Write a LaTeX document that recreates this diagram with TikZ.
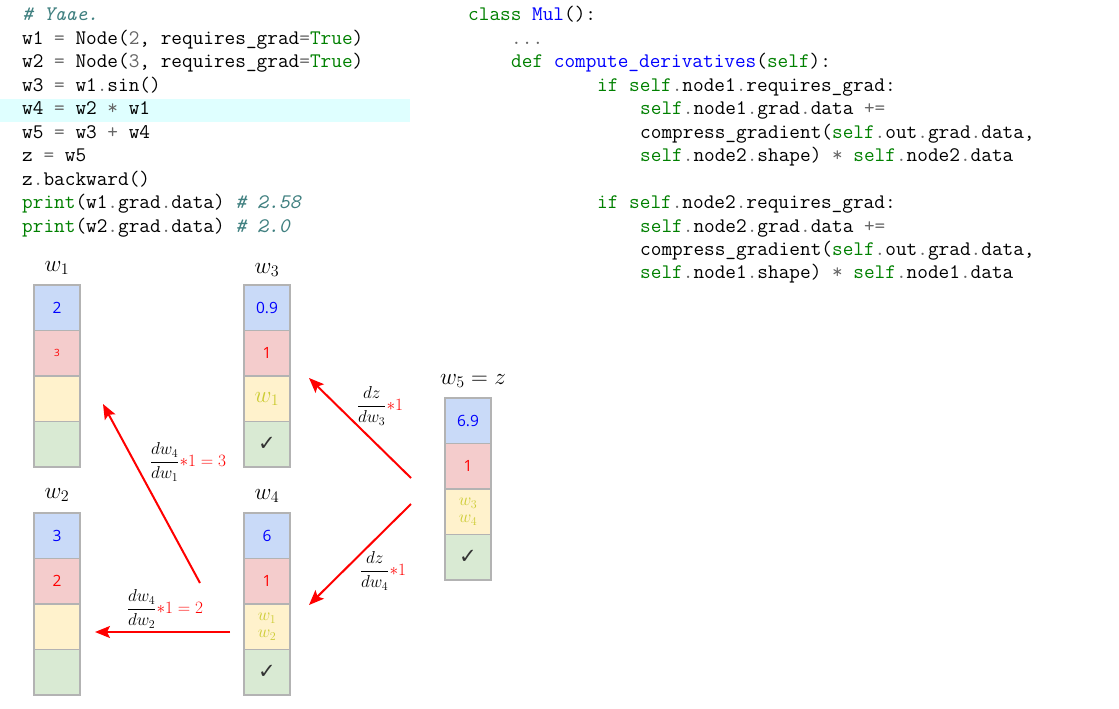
\RequirePackage{fix-cm}
\documentclass[tikz,border=0pt]{standalone}
\usepackage{amsmath}
\usepackage{graphicx}
\usepackage{fontspec}
\usetikzlibrary{arrows.meta}
\newfontfamily\cellfont{Open Sans}
\newfontfamily\symfont{DejaVu Sans}
\definecolor{pgreen}{HTML}{008000}
\definecolor{pgray}{HTML}{666666}
\definecolor{pblue}{HTML}{0000FF}
\definecolor{pcomm}{HTML}{408080}
\definecolor{hl}{HTML}{DFFFFF}
\definecolor{cblue}{HTML}{C9DAF8}
\definecolor{cred}{HTML}{F4CCCC}
\definecolor{cyel}{HTML}{FFF2CC}
\definecolor{cgreen}{HTML}{D9EAD3}
\definecolor{cborder}{HTML}{B3B3B3}
\definecolor{ytext}{HTML}{CCCC33}
\definecolor{chk}{HTML}{333333}
\newcommand\kg[1]{\textcolor{pgreen}{#1}}
\newcommand\op[1]{\textcolor{pgray}{#1}}
\newcommand\nb[1]{\textcolor{pblue}{#1}}
\newcommand\cm[1]{\textcolor{pcomm}{\itshape #1}}
\newcommand\scaledmathlbl[1]{\scalebox{1.12}{$#1$}}
\tikzset{
  codeline/.style={anchor=base west, inner sep=0pt, font=\fontsize{20.7}{23.5}\selectfont\ttfamily},
  cell/.style={draw=cborder, line width=1.3pt, minimum width=46pt, minimum height=45.5pt, inner sep=0pt, anchor=center},
  cb/.style={cell, fill=cblue, text=blue, font=\cellfont\fontsize{15.5}{18}\selectfont},
  cr/.style={cell, fill=cred, text=red, font=\cellfont\fontsize{15.5}{18}\selectfont},
  cy/.style={cell, fill=cyel, text=ytext, font=\fontsize{20.74}{25}\selectfont},
  cys/.style={cell, fill=cyel, text=ytext, font=\fontsize{17.28}{19}\selectfont, align=center},
  cg/.style={cell, fill=cgreen, text=chk, font=\symfont\bfseries\fontsize{21}{24}\selectfont},
  lbl/.style={inner sep=0pt, font=\fontsize{20.74}{25}\selectfont},
  garrow/.style={draw=red, line width=2pt, -{Stealth[length=15pt,width=12pt,inset=3pt]}},
  glbl/.style={inner sep=0pt, font=\fontsize{17.28}{21}\selectfont},
}
\begin{document}
\begin{tikzpicture}[x=1pt,y=-1pt]
\useasboundingbox (0,0) rectangle (1119,709);
% highlight
\fill[hl] (0,99) rectangle (410,122);
% left code
\node[codeline] (l0) at (22,21.0) {\cm{\# Yaae.}};
\node[codeline] (l1) at (22,44.45) {w1 \op{=} Node(\op{2}, requires\_grad\op{=}\kg{True})};
\node[codeline] (l2) at (22,67.9) {w2 \op{=} Node(\op{3}, requires\_grad\op{=}\kg{True})};
\node[codeline] (l3) at (22,91.35) {w3 \op{=} w1\op{.}sin()};
\node[codeline] (l4) at (22,114.8) {w4 \op{=} w2 \op{*} w1};
\node[codeline] (l5) at (22,138.25) {w5 \op{=} w3 \op{+} w4};
\node[codeline] (l6) at (22,161.7) {z \op{=} w5};
\node[codeline] (l7) at (22,185.15) {z\op{.}backward()};
\node[codeline] (l8) at (22,208.6) {\kg{print}(w1\op{.}grad\op{.}data) \cm{\# 2.58}};
\node[codeline] (l9) at (22,232.05) {\kg{print}(w2\op{.}grad\op{.}data) \cm{\# 2.0}};
% right code
\node[codeline] (r0) at (468,21.0) {\kg{class} \nb{Mul}():};
\node[codeline] (r1) at (511,44.45) {\op{...}};
\node[codeline] (r2) at (511,67.9) {\kg{def} \nb{compute\_derivatives}(\kg{self}):};
\node[codeline] (r3) at (597,91.35) {\kg{if} \kg{self}\op{.}node1\op{.}requires\_grad:};
\node[codeline] (r4) at (640,114.8) {\kg{self}\op{.}node1\op{.}grad\op{.}data \op{+=}};
\node[codeline] (r5) at (640,138.25) {compress\_gradient(\kg{self}\op{.}out\op{.}grad\op{.}data,};
\node[codeline] (r6) at (640,161.7) {\kg{self}\op{.}node2\op{.}shape) \op{*} \kg{self}\op{.}node2\op{.}data};
\node[codeline] (r8) at (597,208.6) {\kg{if} \kg{self}\op{.}node2\op{.}requires\_grad:};
\node[codeline] (r9) at (640,232.05) {\kg{self}\op{.}node2\op{.}grad\op{.}data \op{+=}};
\node[codeline] (r10) at (640,255.5) {compress\_gradient(\kg{self}\op{.}out\op{.}grad\op{.}data,};
\node[codeline] (r11) at (640,278.95) {\kg{self}\op{.}node1\op{.}shape) \op{*} \kg{self}\op{.}node1\op{.}data};
% w1
\node[lbl] (w1l) at (57,268) {\scaledmathlbl{w_1}};
\node[cb] (w1a) at (57,307.75) {2};
\node[cr, font=\cellfont\fontsize{10}{12}\selectfont] (w1b) at (57,353.25) {3};
\node[cy] (w1c) at (57,398.75) {};
\node[cg] (w1d) at (57,444.25) {};
% w3
\node[lbl] (w3l) at (267,270) {\scaledmathlbl{w_3}};
\node[cb] (w3a) at (267,307.75) {0.9};
\node[cr] (w3b) at (267,353.25) {1};
\node[cy] (w3c) at (267,398.75) {\scaledmathlbl{w_1}};
\node[cg] (w3d) at (267,444.25) {✓};
% w2
\node[lbl] (w2l) at (57,495) {\scaledmathlbl{w_2}};
\node[cb] (w2a) at (57,535.75) {3};
\node[cr] (w2b) at (57,581.25) {2};
\node[cy] (w2c) at (57,626.75) {};
\node[cg] (w2d) at (57,672.25) {};
% w4
\node[lbl] (w4l) at (267,496) {\scaledmathlbl{w_4}};
\node[cb] (w4a) at (267,535.75) {6};
\node[cr] (w4b) at (267,581.25) {1};
\node[cys] (w4c) at (267,626.75) {$w_1$\\[-2pt]$w_2$};
\node[cg] (w4d) at (267,672.25) {✓};
% w5
\node[lbl] (w5l) at (473,381) {\scaledmathlbl{w_5=z}};
\node[cb] (w5a) at (468,420.75) {6.9};
\node[cr] (w5b) at (468,466.25) {1};
\node[cys] (w5c) at (468,511.75) {$w_3$\\[-2pt]$w_4$};
\node[cg] (w5d) at (468,557.25) {✓};
% arrow end points
\coordinate (aS) at (200,583);
\coordinate (aE) at (103,404);
\coordinate (bS) at (230,632);
\coordinate (bE) at (95,632);
\coordinate (cS) at (411,478);
\coordinate (cE) at (309,378);
\coordinate (dS) at (411,504);
\coordinate (dE) at (309,605);
\draw[garrow] (aS) -- (aE);
\draw[garrow] (bS) -- (bE);
\draw[garrow] (cS) -- (cE);
\draw[garrow] (dS) -- (dE);
% labels
\node[glbl] (la) at (188,462) {$\dfrac{dw_4}{dw_1}$\textcolor{red}{$*1=3$}};
\node[glbl] (lb) at (165,609) {$\dfrac{dw_4}{dw_2}$\textcolor{red}{$*1=2$}};
\node[glbl] (lc) at (380,406) {$\dfrac{dz}{dw_3}$\textcolor{red}{$*1$}};
\node[glbl] (ld) at (383,571) {$\dfrac{dz}{dw_4}$\textcolor{red}{$*1$}};
\end{tikzpicture}
\end{document}
